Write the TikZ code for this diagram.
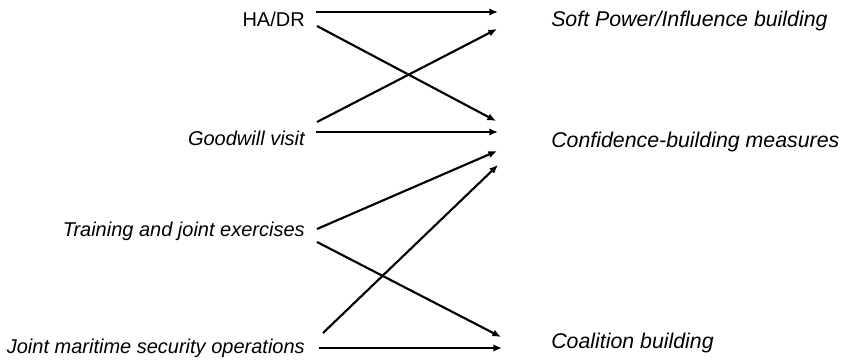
\documentclass[tikz,border=0pt]{standalone}
\usepackage{fontspec}
\setmainfont{Liberation Sans}
\usetikzlibrary{arrows.meta, calc}

\begin{document}
\begin{tikzpicture}[x=0.75pt, y=-0.75pt,
        >={Latex[length=6.5pt,width=5.5pt]},   %Pfeilspitzen
        font=\fontsize{15}{18}\selectfont\itshape,
        quelle/.style={anchor=base east, inner sep=0pt},
        ziel/.style={anchor=base west, inner sep=0pt, font=\fontsize{16}{19}\selectfont\itshape},
        pfeil/.style={->, line width=1.6pt}]
        %Bildbereich
        \useasboundingbox (0,0) rectangle (851,360);
        % Massnahmen links
        \node[quelle, font=\fontsize{15}{18}\selectfont\upshape] (hadr) at (305,27) {HA/DR};
        \node[quelle] (goodwill) at (305,146) {Goodwill visit};
        \node[quelle] (training) at (305,237) {Training and joint exercises};
        \node[quelle] (joint) at (305,353) {Joint maritime security operations};
        % Ziele rechts
        \node[ziel] (soft) at (551,27) {Soft Power/Influence building};
        \node[ziel] (cbm) at (551,147) {Confidence-building measures};
        \node[ziel] (coalition) at (551,348) {Coalition building};
        % Pfeile zeichnen
        \draw[pfeil] ($(hadr.base east)+(11,-15)$) -- ($(soft.base west)+(-53,-15)$);
        \draw[pfeil] ($(hadr.base east)+(12,-1)$) -- ($(cbm.base west)+(-55,-26)$);
        \draw[pfeil] ($(goodwill.base east)+(12,-24)$) -- ($(soft.base west)+(-54,2)$);
        \draw[pfeil] ($(goodwill.base east)+(11,-14)$) -- ($(cbm.base west)+(-53,-15)$);
        \draw[pfeil] ($(training.base east)+(12,-8)$) -- ($(cbm.base west)+(-54,4)$);
        \draw[pfeil] ($(training.base east)+(12,5)$) -- ($(coalition.base west)+(-50,-11)$);
        \draw[pfeil] ($(joint.base east)+(18,-20)$) -- ($(cbm.base west)+(-53,18)$);
        \draw[pfeil] ($(joint.base east)+(14,-5)$) -- ($(coalition.base west)+(-49,0)$);
\end{tikzpicture}
\end{document}
